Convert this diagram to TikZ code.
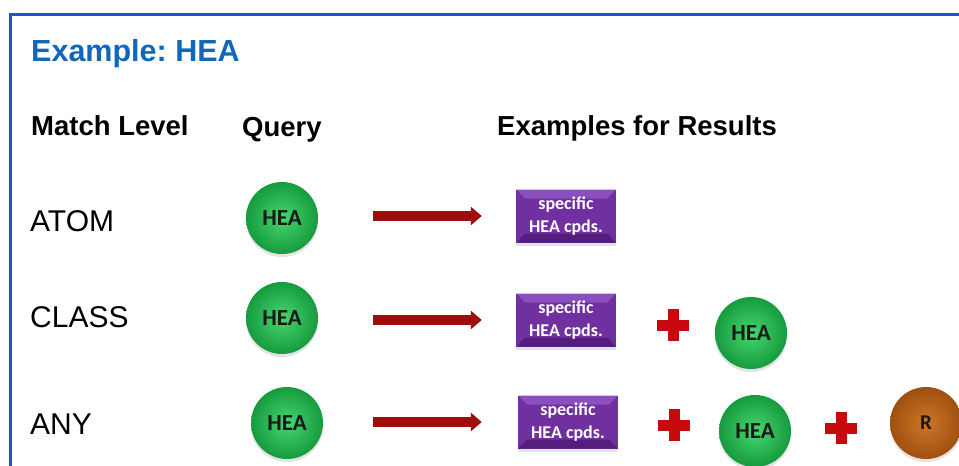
\documentclass[tikz,border=0pt]{standalone}
\usepackage{fontspec}
\setmainfont{Liberation Sans}
\newfontfamily\calfont{Carlito}
\usetikzlibrary{shapes.misc,shadows,arrows.meta,calc}
\frenchspacing
\definecolor{borderblue}{RGB}{22,88,200}
\definecolor{titleblue}{RGB}{16,104,186}
\definecolor{greenL}{RGB}{70,215,110}
\definecolor{greenD}{RGB}{22,155,62}
\definecolor{brownL}{RGB}{205,118,40}
\definecolor{brownD}{RGB}{160,80,15}
\definecolor{boxpurple}{RGB}{112,48,160}
\definecolor{boxpurpleL}{RGB}{140,80,190}
\definecolor{boxpurpleD}{RGB}{85,30,125}
\definecolor{arrowred}{RGB}{158,12,12}
\definecolor{plusred}{RGB}{200,10,15}
\tikzset{
  titletext/.style={anchor=base west, inner sep=0, text=titleblue, font=\bfseries\fontsize{30.5}{36}\selectfont},
  headtext/.style={anchor=base west, inner sep=0, font=\bfseries\fontsize{27.5}{33}\selectfont},
  leveltext/.style={anchor=base west, inner sep=0, font=\fontsize{30}{36}\selectfont},
  ball/.style={circle, minimum size=72pt, inner sep=0, text=black!90,
    font=\calfont\bfseries\fontsize{23}{27}\selectfont,
    inner color=greenL, outer color=greenD,
    drop shadow={opacity=0.22, shadow xshift=0pt, shadow yshift=-3pt}},
  rball/.style={ball, inner color=brownL, outer color=brownD, font=\calfont\bfseries\fontsize{21}{24}\selectfont},
  resbox/.style={rectangle, minimum width=100pt, minimum height=53pt, inner sep=0,
    fill=boxpurple, text=white, align=center,
    font=\calfont\bfseries\fontsize{18}{22.5}\selectfont,
    drop shadow={opacity=0.22, shadow xshift=0pt, shadow yshift=-3pt},
    path picture={
      \fill[boxpurpleL] (path picture bounding box.north west) -- (path picture bounding box.north east)
        -- ($(path picture bounding box.north east)+(-9pt,-9pt)$) -- ($(path picture bounding box.north west)+(9pt,-9pt)$) -- cycle;
      \fill[boxpurpleD] (path picture bounding box.south west) -- (path picture bounding box.south east)
        -- ($(path picture bounding box.south east)+(-9pt,9pt)$) -- ($(path picture bounding box.south west)+(9pt,9pt)$) -- cycle;
    }},
  bigarrow/.style={draw=arrowred, line width=10pt, -{Triangle[length=11pt,width=18pt]}},
  plussign/.style={cross out, draw=plusred, line width=11pt, minimum size=22pt, inner sep=0, outer sep=0, rotate=45}
}
\begin{document}
\begin{tikzpicture}[x=1pt,y=-1pt]
\useasboundingbox (0,0) rectangle (959,466);
\fill[white] (0,0) rectangle (959,466);
\coordinate (bTR) at (959,14);
\coordinate (bTL) at (10.5,14);
\coordinate (bBL) at (10.5,466);
\draw[borderblue, line width=3pt] (bTR) -- (bTL) -- (bBL);

\node[titletext] (title) at (31,61) {Example: HEA};
\node[headtext] (h1) at (31,135) {Match Level};
\node[headtext] (h2) at (242,136) {Query};
\node[headtext] (h3) at (497,135) {Examples for Results};

\node[leveltext] (l1) at (30,231) {ATOM};
\node[leveltext] (l2) at (30,327) {CLASS};
\node[leveltext] (l3) at (30,434) {ANY};

\node[ball] (q1) at (282,218) {HEA};
\node[ball] (q2) at (282,318) {HEA};
\node[ball] (q3) at (287,423) {HEA};

\node[resbox] (b1) at (566,216) {specific\\HEA cpds.};
\node[resbox] (b2) at (566,320) {specific\\HEA cpds.};
\node[resbox] (b3) at (568,422) {specific\\HEA cpds.};

\draw[bigarrow, shorten <=55pt, shorten >=34pt] (q1.east |- b1.west) -- (b1.west);
\draw[bigarrow, shorten <=55pt, shorten >=34pt] (q2.east |- b2.west) -- (b2.west);
\draw[bigarrow, shorten <=50pt, shorten >=36pt] (q3.east |- b3.west) -- (b3.west);

\node[plussign] (p2) at (673,325) {};
\node[ball] (r2) at (751,333) {HEA};

\node[plussign] (p3a) at (674,425) {};
\node[ball] (r3) at (755,431) {HEA};
\node[plussign] (p3b) at (841,428) {};
\node[rball] (r3b) at (926,423) {R};
\end{tikzpicture}
\end{document}
